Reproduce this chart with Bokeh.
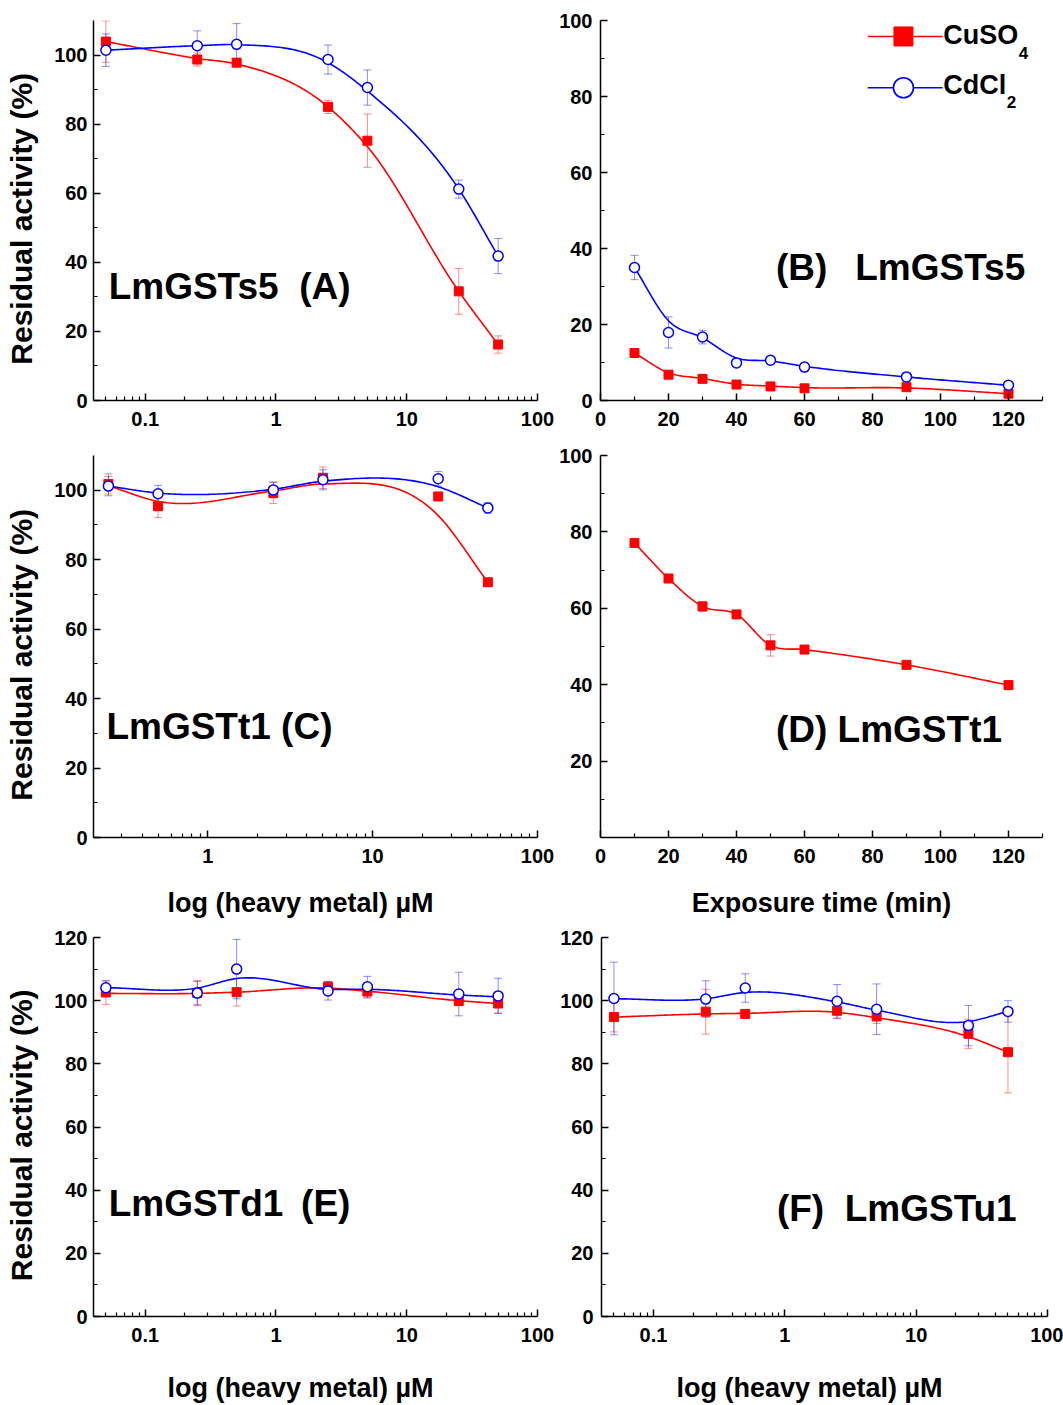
import numpy as np
from bokeh.plotting import figure
from bokeh.models import (Range1d, FixedTicker, CustomJSTickFormatter, Whisker, TeeHead,
                          ColumnDataSource, Label)
from bokeh.layouts import column, row
from bokeh.embed import file_html
from bokeh.resources import INLINE

RED = "#ff0000"
BLUE = "#0000ff"
FONT = "Liberation Sans"

# ---------------- data ----------------
conc = [0.05, 0.25, 0.5, 2.5, 5, 25, 50]
conc_c = [0.25, 0.5, 2.5, 5, 25, 50]
time_min = [10, 20, 30, 40, 50, 60, 90, 120]

# (A) LmGSTs5 vs concentration
a_cu = [103.9, 98.7, 97.8, 85.0, 75.2, 31.6, 16.2]
a_cu_err = [6.0, 1.9, 1.2, 1.9, 7.7, 6.6, 2.5]
a_cu_fit = [103.9, 99.0, 97.4, 85.0, 73.5, 31.6, 16.2]
a_cd = [101.4, 102.7, 103.1, 98.7, 90.6, 61.2, 41.8]
a_cd_err = [4.7, 4.3, 6.0, 4.2, 5.1, 2.6, 5.1]
a_cd_fit = [101.4, 102.7, 103.0, 97.8, 89.6, 61.2, 41.8]

# (B) LmGSTs5 vs exposure time
b_cu = [12.5, 6.8, 5.7, 4.2, 3.7, 3.2, 3.5, 1.8]
b_cu_err = [0.8, 0.8, 0.7, 0.6, 0.6, 0.6, 0.8, 0.6]
b_cu_fit = [12.5, 7.3, 5.8, 4.3, 3.8, 3.4, 3.3, 1.8]
b_cd = [35.0, 17.9, 16.7, 9.9, 10.6, 8.8, 6.2, 4.0]
b_cd_err = [3.2, 4.1, 1.8, 1.0, 1.0, 1.0, 1.2, 1.0]
b_cd_fit = [35.0, 21.0, 16.5, 11.2, 10.4, 9.0, 6.2, 4.0]

# (C) LmGSTt1 vs concentration
c_cu = [101.8, 95.4, 99.2, 103.6, 98.2, 73.5]
c_cu_err = [2.9, 3.3, 3.0, 3.1, 1.0, 1.0]
c_cu_fit = [101.3, 96.8, 99.8, 101.8, 92.7, 73.5]
c_cd = [101.2, 99.0, 100.1, 103.0, 103.3, 94.9]
c_cd_err = [2.8, 2.4, 2.3, 2.9, 2.1, 1.5]
c_cd_fit = [101.2, 99.2, 100.3, 102.6, 101.0, 94.9]

# (D) LmGSTt1 vs exposure time
d_cu = [77.1, 67.8, 60.5, 58.4, 50.3, 49.2, 45.2, 39.9]
d_cu_err = [0.8, 1.0, 1.3, 1.0, 2.8, 0.8, 0.8, 0.8]

# (E) LmGSTd1 vs concentration
e_cu = [102.6, 102.4, 102.7, 104.4, 102.9, 99.9, 99.1]
e_cu_err = [3.8, 4.0, 4.4, 1.6, 2.1, 1.5, 3.0]
e_cu_fit = [102.3, 102.3, 102.7, 104.0, 103.0, 100.0, 99.1]
e_cd = [104.1, 102.4, 110.0, 103.1, 104.4, 102.1, 101.5]
e_cd_err = [2.1, 3.7, 9.4, 2.9, 3.3, 6.9, 5.6]
e_cd_fit = [104.1, 104.0, 107.0, 103.6, 103.6, 101.8, 101.2]

# (F) LmGSTu1 vs concentration
f_cu = [94.8, 96.5, 95.8, 96.8, 95.0, 89.5, 83.7]
f_cu_err = [4.7, 7.1, 1.0, 2.5, 2.2, 4.6, 12.9]
f_cu_fit = [94.8, 95.8, 96.0, 96.3, 94.6, 88.6, 83.7]
f_cd = [100.7, 100.5, 104.0, 99.8, 97.3, 92.1, 96.6]
f_cd_err = [11.5, 5.8, 4.5, 5.3, 8.0, 6.4, 3.4]
f_cd_fit = [100.6, 100.6, 102.6, 99.6, 97.0, 93.4, 96.6]

NB = "\u00a0"
TH = "\u2009"
Y_TITLE = "Residual activity (%)" + NB * 2            # trailing nbsp: label sits a bit lower
X_TITLE_LOG = "log (heavy metal) \u00b5M" + NB * 4   # trailing nbsp: label sits left of centre
X_TITLE_TIME = "Exposure time (min)"


def smooth(x, y, log=True, n=40):
    """Piecewise cubic Hermite line through the given points (drawing only)."""
    u = np.log10(np.asarray(x, float)) if log else np.asarray(x, float)
    y = np.asarray(y, float)
    h = np.diff(u)
    s = np.diff(y) / h
    m = np.empty_like(y)
    m[0] = s[0]
    m[-1] = s[-1]
    m[1:-1] = (h[1:] * s[:-1] + h[:-1] * s[1:]) / (h[:-1] + h[1:])
    uu, yy = [], []
    for i in range(len(h)):
        t = np.linspace(0, 1, n)
        h00 = 2 * t**3 - 3 * t**2 + 1
        h10 = t**3 - 2 * t**2 + t
        h01 = -2 * t**3 + 3 * t**2
        h11 = t**3 - t**2
        yy.append(h00 * y[i] + h10 * h[i] * m[i] + h01 * y[i + 1] + h11 * h[i] * m[i + 1])
        uu.append(u[i] + t * h[i])
    uu = np.concatenate(uu)
    yy = np.concatenate(yy)
    return (10**uu if log else uu), yy


def style_axis(ax, title=None, title_size="27px", standoff=10, lab_stand=6):
    ax.axis_line_width = 1.5
    ax.axis_line_color = "black"
    ax.major_tick_in = 7
    ax.major_tick_out = 0
    ax.minor_tick_in = 4
    ax.minor_tick_out = 0
    ax.major_tick_line_width = 1.5
    ax.minor_tick_line_width = 1.2
    ax.major_tick_line_color = "black"
    ax.minor_tick_line_color = "black"
    ax.major_label_text_font = FONT
    ax.major_label_text_font_style = "bold"
    ax.major_label_text_font_size = "20px"
    ax.major_label_text_color = "black"
    ax.major_label_standoff = lab_stand
    if title:
        ax.axis_label = title
        ax.axis_label_text_font = FONT
        ax.axis_label_text_font_style = "bold"
        ax.axis_label_text_font_size = title_size
        ax.axis_label_text_color = "black"
        ax.axis_label_standoff = standoff


fmt = CustomJSTickFormatter(code="return tick.toString();")


def make_fig(xlog, xr, yr, width, height, bl, br, bt, bb, yticks, yminor,
             ytitle=None, xtitle=None, xstand=22, ylab_stand=6):
    p = figure(width=width, height=height,
               x_axis_type="log" if xlog else "linear",
               x_range=Range1d(*xr), y_range=Range1d(*yr),
               output_backend="svg", toolbar_location=None,
               min_border_left=bl, min_border_right=br,
               min_border_top=bt, min_border_bottom=bb)
    p.outline_line_color = None
    p.xgrid.visible = False
    p.ygrid.visible = False
    p.background_fill_color = "white"
    p.border_fill_color = None
    if xlog:
        minor = [k * d for d in (0.01, 0.1, 1, 10) for k in range(2, 10)]
        p.xaxis.ticker = FixedTicker(ticks=[0.1, 1, 10, 100], minor_ticks=minor)
    else:
        p.xaxis.ticker = FixedTicker(ticks=list(range(0, 121, 20)),
                                     minor_ticks=list(range(10, 131, 20)))
    p.xaxis.formatter = fmt
    p.yaxis.ticker = FixedTicker(ticks=yticks, minor_ticks=yminor)
    p.yaxis.formatter = fmt
    style_axis(p.xaxis[0], xtitle, "27px", xstand, 11)
    style_axis(p.yaxis[0], ytitle, "30px", 13, ylab_stand)
    return p


def add_series(p, x, y, err, fit, color, marker, log=True):
    lo = [v - e for v, e in zip(y, err)]
    hi = [v + e for v, e in zip(y, err)]
    src = ColumnDataSource(dict(x=x, lo=lo, hi=hi))
    p.add_layout(Whisker(source=src, base="x", lower="lo", upper="hi",
                         line_color=color, line_alpha=0.45, line_width=1,
                         upper_head=TeeHead(size=8, line_color=color, line_alpha=0.45, line_width=1),
                         lower_head=TeeHead(size=8, line_color=color, line_alpha=0.45, line_width=1)))
    sx, sy = smooth(x, fit, log=log)
    p.line(sx, sy, line_color=color, line_width=1.6)
    if marker == "square":
        p.scatter(x, y, marker="square", size=9, fill_color=color, line_color=color)
    else:
        p.scatter(x, y, marker="circle", size=10, fill_color="white",
                  line_color=color, line_width=1.5)


def add_label(p, x, y, text, size, ppu):
    # ppu: pixels per y unit; compensates the renderer's baseline placement
    yy = y + 0.42 * size / ppu
    p.add_layout(Label(x=x, y=yy, text=text, text_font=FONT, text_font_style="bold",
                       text_font_size=f"{size}px", text_color="black",
                       text_align="left", text_baseline="alphabetic"))


y110 = [0, 20, 40, 60, 80, 100]
y110m = [10, 30, 50, 70, 90]
y120 = [0, 20, 40, 60, 80, 100, 120]
y120m = [10, 30, 50, 70, 90, 110]

LW, RW = 556, 507          # column widths
LBL, LBR = 93, 19          # left column borders (frame 444 px)
RBL, RBR = 43, 21          # right column borders (frame 443 px)

# ---- Row 1 (y 0..440) ----
pA = make_fig(True, (0.0402, 100), (0, 110), LW, 440, LBL, LBR, 20, 40,
              y110, y110m, ytitle=Y_TITLE)
add_series(pA, conc, a_cu, a_cu_err, a_cu_fit, RED, "square")
add_series(pA, conc, a_cd, a_cd_err, a_cd_fit, BLUE, "circle")
add_label(pA, 0.0525, 28.5, "LmGSTs5" + NB + " (A)", 37, 380 / 110)

pB = make_fig(False, (0, 130), (0, 100), RW, 440, RBL, RBR, 20, 40,
              y110, y110m, ylab_stand=8)
add_series(pB, time_min, b_cu, b_cu_err, b_cu_fit, RED, "square", log=False)
add_series(pB, time_min, b_cd, b_cd_err, b_cd_fit, BLUE, "circle", log=False)
add_label(pB, 51.6, 30.8, "(B)" + NB + TH + " LmGSTs5", 37, 3.8)
# legend (drawn inside panel B)
pB.line([78.6, 100.6], [95.8, 95.8], line_color=RED, line_width=1.6)
pB.scatter([89.1], [95.8], marker="square", size=19, fill_color=RED, line_color=RED)
pB.line([78.6, 100.6], [82.3, 82.3], line_color=BLUE, line_width=1.6)
pB.scatter([89.1], [82.3], marker="circle", size=20, fill_color="white",
           line_color=BLUE, line_width=1.6)
add_label(pB, 100.8, 93.1, "CuSO", 27, 3.8)
add_label(pB, 123.0, 89.6, "4", 17, 3.8)
add_label(pB, 119.5, 76.8, "2", 17, 3.8)
add_label(pB, 100.8, 80.0, "CdCl", 27, 3.8)

# ---- Row 2 (y 440..920) ----
pC = make_fig(True, (0.203, 100), (0, 110), LW, 480, LBL, LBR, 15, 83,
              y110, y110m, ytitle=Y_TITLE, xtitle=X_TITLE_LOG, xstand=22)
add_series(pC, conc_c, c_cu, c_cu_err, c_cu_fit, RED, "square")
add_series(pC, conc_c, c_cd, c_cd_err, c_cd_fit, BLUE, "circle")
add_label(pC, 0.243, 27.5, "LmGSTt1 (C)", 37, 382 / 110)

pD = make_fig(False, (0, 130), (0, 100), RW, 480, RBL, RBR, 15, 83,
              [20, 40, 60, 80, 100], y110m, xtitle=X_TITLE_TIME, xstand=22, ylab_stand=8)
add_series(pD, time_min, d_cu, d_cu_err, d_cu, RED, "square", log=False)
add_label(pD, 51.6, 24.2, "(D) LmGSTt1", 37, 3.82)

# ---- Row 3 (y 920..1405) ----
pE = make_fig(True, (0.0402, 100), (0, 120), LW, 485, LBL, LBR, 17, 87,
              y120, y120m, ytitle=Y_TITLE, xtitle=X_TITLE_LOG, xstand=28)
add_series(pE, conc, e_cu, e_cu_err, e_cu_fit, RED, "square")
add_series(pE, conc, e_cd, e_cd_err, e_cd_fit, BLUE, "circle")
add_label(pE, 0.0525, 31.0, "LmGSTd1" + TH + " (E)", 37, 381 / 120)

pF = make_fig(True, (0.0402, 100), (0, 120), RW, 485, 45, 16, 17, 87,
              y120, y120m, xtitle=X_TITLE_LOG, xstand=28, ylab_stand=8)
add_series(pF, conc, f_cu, f_cu_err, f_cu_fit, RED, "square")
add_series(pF, conc, f_cd, f_cd_err, f_cd_fit, BLUE, "circle")
add_label(pF, 0.87, 29.4, "(F)" + NB + " LmGSTu1", 37, 381 / 120)

layout = column(row(pA, pB), row(pC, pD), row(pE, pF))
open("out.html", "w").write(file_html(layout, INLINE))
